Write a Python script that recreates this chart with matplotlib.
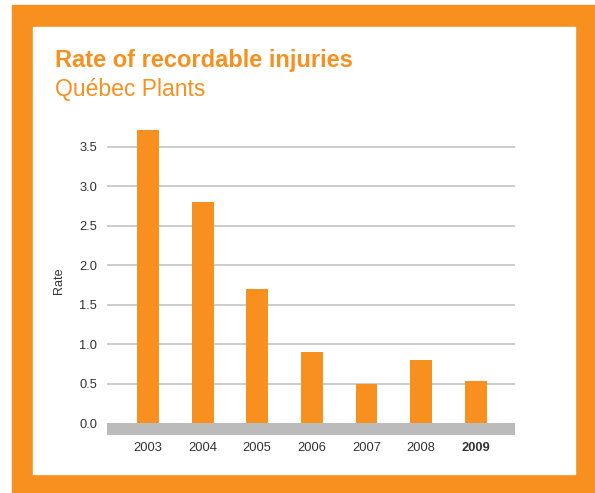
import matplotlib
matplotlib.use("Agg")
import matplotlib.pyplot as plt
from matplotlib.patches import Rectangle

# data
years = ["2003", "2004", "2005", "2006", "2007", "2008", "2009"]
rates = [3.71, 2.80, 1.70, 0.90, 0.49, 0.80, 0.53]
yticks = [0.0, 0.5, 1.0, 1.5, 2.0, 2.5, 3.0, 3.5]

orange = "#F7901E"
W, H = 595, 493

plt.rcParams["font.family"] = ["Liberation Sans", "DejaVu Sans"]

fig = plt.figure(figsize=(W / 100, H / 100), dpi=100)
fig.patch.set_facecolor("white")

# orange frame with white panel (behind the axes)
fig.patches.append(Rectangle((12 / W, 0), (W - 12) / W, (H - 5) / H,
                             transform=fig.transFigure, color=orange, zorder=-2))
fig.patches.append(Rectangle((33 / W, (H - 474) / H), (575 - 33) / W, (474 - 27) / H,
                             transform=fig.transFigure, color="white", zorder=-1))

fig.text(55 / W, 1 - 67 / H, "Rate of recordable injuries", color=orange,
         fontsize=17, fontweight="bold", va="baseline")
fig.text(55 / W, 1 - 96 / H, "Québec Plants", color=orange,
         fontsize=16.5, va="baseline")

ax = fig.add_axes([107 / W, 1 - 435 / H, (515 - 107) / W, (435 - 127) / H])
ax.set_facecolor("none")
x = list(range(len(years)))

ax.axhspan(-0.152, 0, color="#BBBBBB", lw=0, zorder=1)
for t in yticks[1:]:
    ax.axhline(t, color="#C8C8C8", lw=1.3, zorder=1)
ax.bar(x, rates, width=0.4, color=orange, zorder=2)

ax.set_xlim(-0.75, 6.72)
ax.set_ylim(-0.152, 3.75)
ax.set_yticks(yticks)
ax.set_yticklabels([f"{t:.1f}" for t in yticks])
ax.set_xticks(x)
ax.set_xticklabels(years)
ax.get_xticklabels()[-1].set_fontweight("bold")
ax.tick_params(length=0, labelsize=9.3, colors="#333333")
ax.tick_params(axis="y", pad=7)
ax.tick_params(axis="x", pad=5)
ax.set_ylabel("Rate", fontsize=9, color="#333333", labelpad=10)
for s in ax.spines.values():
    s.set_visible(False)

fig.savefig("out.png", dpi=100)
